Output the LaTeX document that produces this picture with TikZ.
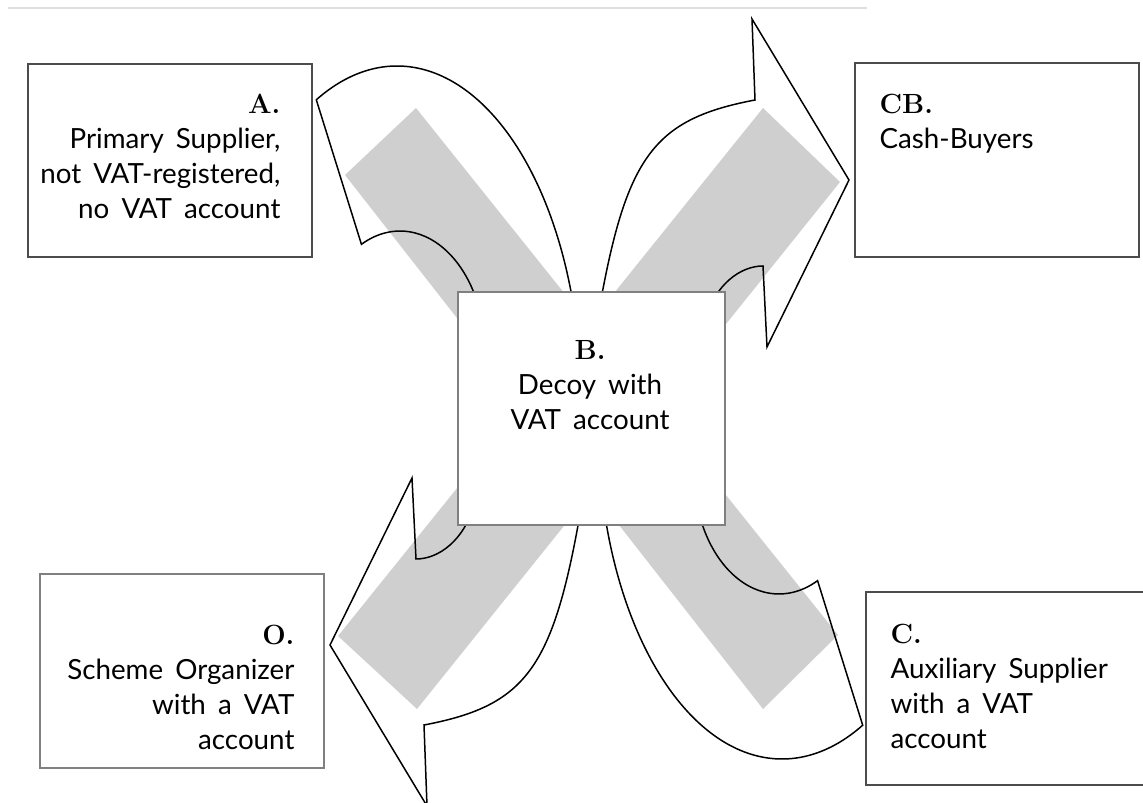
\documentclass[tikz,border=0pt]{standalone}
\usepackage{fontspec}
\newfontfamily\bodyfont{Lato}[WordSpace=1.7]
\definecolor{bandgray}{gray}{0.81}
\definecolor{boxline}{gray}{0.3}
\newcommand{\boxtag}[1]{{\rmfamily\bfseries #1}}

\begin{document}
\begin{tikzpicture}
[
    x=0.02cm, y=-0.02cm,
    box/.style={draw=boxline, line width=0.9pt, fill=white, inner sep=0pt,
        minimum width=5.68cm, minimum height=3.87cm},
    palebox/.style={box, draw=black!50},
    txt/.style={inner sep=0pt, font=\bodyfont\fontsize{15.8}{19.9}\selectfont},
    band/.style={fill=bandgray},
    bent/.style={draw=black, line width=0.85pt},
]
\useasboundingbox (0,0) rectangle (1143,803);
\draw[black!13, line width=1pt] (8,8) -- (867,8);

% grey cross behind everything
\fill[band] (416,108) -- (345,175) -- (763,709) -- (838,635) -- cycle;
\fill[band] (763,108) -- (840,182) -- (417,709) -- (338,636) -- cycle;

% curved arrows (lower ones = upper ones turned half round)
\draw[bent] (316.3,99.8) arc[start angle=-116, end angle=-10, x radius=184, y radius=334]
    -- (479.9,311.3) arc[start angle=-20, end angle=-117, x radius=85, y radius=122] -- cycle;
\draw[bent, rotate around={180:(589.5,412.5)}] (316.3,99.8) arc[start angle=-116, end angle=-10, x radius=184, y radius=334]
    -- (479.9,311.3) arc[start angle=-20, end angle=-117, x radius=85, y radius=122] -- cycle;
\draw[bent] (600,305) .. controls (627,155) and (655,119) .. (755,100)
    -- (752,19) -- (849,180) -- (767,347) -- (763,266)
    .. controls (740,266) and (715,285) .. (705,320) -- cycle;
\draw[bent, rotate around={180:(589.5,412.5)}] (600,305) .. controls (627,155) and (655,119) .. (755,100)
    -- (752,19) -- (849,180) -- (767,347) -- (763,266)
    .. controls (740,266) and (715,285) .. (705,320) -- cycle;

% boxes
\node[box] (A) at (170,160.5) {};
\node[box] (CB) at (997,160) {};
\node[palebox, minimum width=5.34cm, minimum height=4.66cm] (B) at (591.5,408.5) {};
\node[palebox] (O) at (182,671) {};
\node[box] (C) at (1008,688.5) {};

\node[txt, anchor=north east, align=right] (Atext) at ([shift={(-32,30.5)}]A.north east)
    {\boxtag{A.}\\Primary Supplier,\\not VAT-registered,\\no VAT account};
\node[txt, anchor=north west, align=left] (CBtext) at ([shift={(25,31.5)}]CB.north west)
    {\boxtag{CB.}\\Cash-Buyers};
\node[txt, anchor=north, align=center] (Btext) at ([shift={(-1.5,48.5)}]B.north)
    {\boxtag{B.}\\Decoy with\\VAT account};
\node[txt, anchor=north east, align=right] (Otext) at ([shift={(-30,51.5)}]O.north east)
    {\boxtag{O.}\\Scheme Organizer\\with a VAT\\account};
\node[txt, anchor=north west, align=left] (Ctext) at ([shift={(25,32.5)}]C.north west)
    {\boxtag{C.}\\Auxiliary Supplier\\with a VAT\\account};
\end{tikzpicture}
\end{document}
